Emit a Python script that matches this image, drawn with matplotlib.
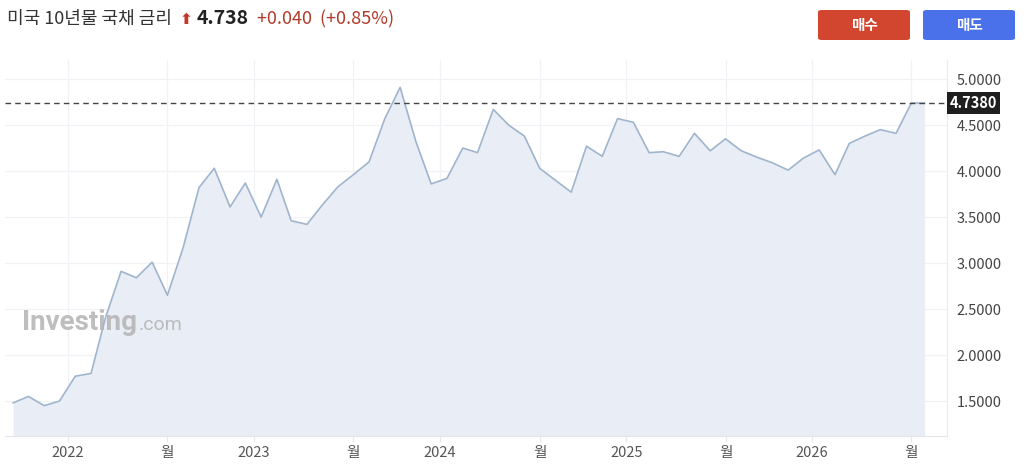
import matplotlib
matplotlib.use("Agg")
import matplotlib.pyplot as plt
from matplotlib.patches import FancyBboxPatch
import pandas as pd

plt.rcParams["font.family"] = ["Noto Sans CJK KR", "DejaVu Sans"]

# monthly closes of the US 10y yield (plus the live last tick)
yields = [
    1.48, 1.55, 1.45, 1.50, 1.77, 1.80, 2.40, 2.91, 2.84, 3.01,
    2.65, 3.17, 3.82, 4.03, 3.61, 3.87, 3.50, 3.91, 3.46, 3.42,
    3.63, 3.83, 3.96, 4.10, 4.57, 4.91, 4.32, 3.86, 3.92, 4.25,
    4.20, 4.67, 4.50, 4.38, 4.03, 3.90, 3.77, 4.27, 4.16, 4.57,
    4.53, 4.20, 4.21, 4.16, 4.41, 4.22, 4.35, 4.22, 4.15, 4.09,
    4.01, 4.14, 4.23, 3.96, 4.30, 4.38, 4.45, 4.41, 4.74,
]
last_yield = 4.738
last_date = "2026-08-10"
dates = list(pd.date_range("2021-09-01", periods=len(yields), freq="MS") + pd.Timedelta(days=14))
dates.append(pd.Timestamp(last_date))
yields_all = yields + [last_yield]

tick_dates = ["2022-01-01", "2022-07-15", "2023-01-01", "2023-07-15", "2024-01-01",
              "2024-07-15", "2025-01-01", "2025-07-15", "2026-01-01", "2026-07-15"]
tick_labels = ["2022", "월", "2023", "월", "2024", "월", "2025", "월", "2026", "월"]
y_ticks = [1.5, 2.0, 2.5, 3.0, 3.5, 4.0, 4.5, 5.0]

title = "미국 10년물 국채 금리"
price_text = "4.738"
change_text = "+0.040  (+0.85%)"

W, H = 1024, 474
fig = plt.figure(figsize=(W / 100, H / 100), dpi=100)
ax = fig.add_axes([5 / W, 1 - 436 / H, 942 / W, 376 / H])

line_c = "#9fb5cd"
fill_c = "#e9edf5"
ax.fill_between(dates, yields_all, 0, color=fill_c, lw=0, zorder=1)
ax.plot(dates, yields_all, color=line_c, lw=1.2, zorder=2)

ax.set_ylim(1.12, 5.207)
ax.set_xlim(dates[0] - pd.Timedelta(days=16), dates[-2] + pd.Timedelta(days=70))

ax.set_xticks([pd.Timestamp(d) for d in tick_dates])
ax.set_xticklabels(tick_labels)
ax.set_yticks(y_ticks)
ax.set_yticklabels([f"{v:.4f}" for v in y_ticks])
ax.yaxis.tick_right()
ax.tick_params(axis="y", length=0, pad=7, labelsize=10.5, labelcolor="#444444")
ax.tick_params(axis="x", length=4, color="#e6e8ee", pad=3, labelsize=10.5, labelcolor="#555555")
ax.grid(True, color="#f1f2f5", lw=0.9, zorder=0)
ax.set_axisbelow(True)
for s in ["top", "left"]:
    ax.spines[s].set_visible(False)
ax.spines["bottom"].set_color("#e3e5ea")
ax.spines["right"].set_color("#e8eaee")

# current price marker
ax.axhline(last_yield, color="#444444", lw=1.0, ls=(0, (4, 3)), zorder=3)
ax.text(1.003, last_yield, f"{last_yield:.4f}", transform=ax.get_yaxis_transform(),
        ha="left", va="center", color="white", fontsize=10.5, fontweight="bold",
        bbox=dict(boxstyle="square,pad=0.22", fc="#1e1e1e", ec="none"), zorder=5, clip_on=False)

# watermark
fig.text(22 / W, 1 - 323 / H, "Investing", fontsize=20, fontweight="bold", color="#b3b3b3",
         alpha=0.85, family=["Roboto", "DejaVu Sans"], va="center", ha="left")
fig.text(139 / W, 1 - 325 / H, ".com", fontsize=14, color="#b3b3b3", alpha=0.85,
         family=["Roboto", "DejaVu Sans"], va="center", ha="left")

# header
fig.text(7 / W, 1 - 19 / H, title, fontsize=13, color="#333333", va="center", ha="left")
fig.text(180 / W, 1 - 19 / H, "⬆", fontsize=11, color="#c0392b", va="center", ha="left",
         family=["DejaVu Sans"], fontweight="bold")
fig.text(197 / W, 1 - 19 / H, price_text, fontsize=14, fontweight="bold", color="#222222",
         va="center", ha="left")
fig.text(257 / W, 1 - 19 / H, change_text, fontsize=13, color="#b23a2a",
         va="center", ha="left")

# buy / sell buttons
for x0, label, col in [(818, "매수", "#d2452f"), (923, "매도", "#4a70ea")]:
    btn = FancyBboxPatch((x0 / W, 1 - 40 / H), 92 / W, 30 / H,
                         boxstyle="round,pad=0,rounding_size=0.004", transform=fig.transFigure,
                         fc=col, ec="none")
    fig.patches.append(btn)
    fig.text((x0 + 46) / W, 1 - 25 / H, label, fontsize=10.5, fontweight="bold", color="white",
             ha="center", va="center")

fig.savefig("out.png", dpi=100)
